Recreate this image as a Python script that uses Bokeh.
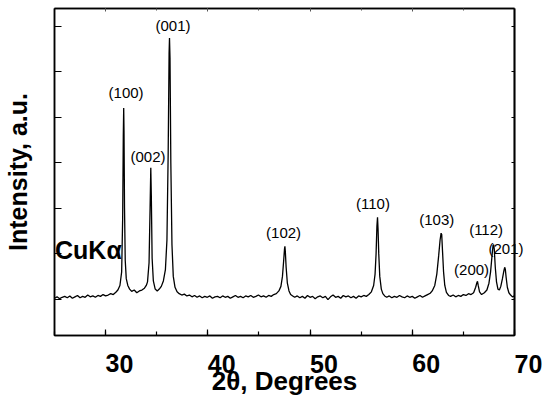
from bokeh.plotting import figure
from bokeh.models import (Range1d, LinearAxis, FixedTicker, SingleIntervalTicker,
                          Label, CustomJSTickFormatter)
from bokeh.embed import file_html
from bokeh.resources import INLINE

# ---- data ----
two_theta = [
    25.00, 25.25, 25.50, 25.75, 26.00, 26.25, 26.50, 26.75, 27.00, 27.25,
    27.50, 27.75, 28.00, 28.25, 28.50, 28.75, 29.00, 29.25, 29.50, 29.75,
    30.00, 30.25, 30.50, 30.75, 31.00, 31.20, 31.40, 31.57, 31.67, 31.73,
    31.77, 31.80, 31.85, 31.92, 32.02, 32.17, 32.35, 32.55, 32.80, 33.05,
    33.30, 33.55, 33.80, 33.98, 34.10, 34.25, 34.35, 34.42, 34.47, 34.55,
    34.67, 34.85, 35.05, 35.25, 35.45, 35.65, 35.85, 36.00, 36.12, 36.21,
    36.25, 36.30, 36.38, 36.49, 36.62, 36.79, 36.99, 37.20, 37.45, 37.70,
    37.95, 38.20, 38.45, 38.70, 38.95, 39.20, 39.45, 39.70, 39.95, 40.20,
    40.45, 40.70, 40.95, 41.20, 41.45, 41.70, 41.95, 42.20, 42.45, 42.70,
    42.95, 43.20, 43.45, 43.70, 43.95, 44.20, 44.45, 44.70, 44.95, 45.20,
    45.45, 45.70, 45.95, 46.20, 46.45, 46.70, 46.95, 47.15, 47.30, 47.42,
    47.50, 47.54, 47.58, 47.66, 47.78, 47.94, 48.10, 48.30, 48.50, 48.75,
    49.00, 49.25, 49.50, 49.75, 50.00, 50.25, 50.50, 50.75, 51.00, 51.25,
    51.50, 51.75, 52.00, 52.25, 52.50, 52.75, 53.00, 53.25, 53.50, 53.75,
    54.00, 54.25, 54.50, 54.75, 55.00, 55.25, 55.50, 55.75, 56.00, 56.22,
    56.36, 56.46, 56.54, 56.60, 56.65, 56.72, 56.82, 56.97, 57.12, 57.30,
    57.50, 57.75, 58.00, 58.25, 58.50, 58.75, 59.00, 59.25, 59.50, 59.75,
    60.00, 60.25, 60.50, 60.75, 61.00, 61.25, 61.50, 61.75, 61.95, 62.20,
    62.40, 62.58, 62.72, 62.82, 62.88, 62.96, 63.06, 63.18, 63.34, 63.55,
    63.75, 64.00, 64.25, 64.50, 64.75, 65.00, 65.25, 65.50, 65.75, 66.00,
    66.20, 66.32, 66.38, 66.45, 66.58, 66.78, 67.05, 67.30, 67.50, 67.66,
    67.80, 67.90, 67.96, 68.02, 68.12, 68.24, 68.38, 68.52, 68.66, 68.82,
    68.96, 69.04, 69.10, 69.18, 69.30, 69.45, 69.62, 69.80, 70.00,
]
intensity = [
    0.02, 0.05, 0.01, 0.04, 0.06, 0.03, 0.07, 0.02, 0.05, 0.08,
    0.03, 0.06, 0.04, 0.09, 0.05, 0.07, 0.04, 0.08, 0.06, 0.10,
    0.07, 0.09, 0.12, 0.10, 0.15, 0.20, 0.30, 0.60, 1.80, 3.60,
    4.20, 3.70, 2.00, 0.85, 0.45, 0.30, 0.22, 0.17, 0.20, 0.14,
    0.18, 0.20, 0.24, 0.30, 0.38, 0.80, 2.00, 2.89, 2.30, 0.90,
    0.40, 0.22, 0.18, 0.22, 0.28, 0.40, 0.65, 1.30, 3.20, 5.40,
    5.74, 5.30, 3.00, 1.20, 0.50, 0.26, 0.16, 0.12, 0.09, 0.11,
    0.07, 0.09, 0.05, 0.08, 0.04, 0.07, 0.03, 0.06, 0.04, 0.07,
    0.02, 0.05, 0.06, 0.03, 0.07, 0.04, 0.06, 0.02, 0.05, 0.08,
    0.04, 0.06, 0.03, 0.07, 0.05, 0.08, 0.04, 0.06, 0.09, 0.05,
    0.07, 0.04, 0.08, 0.06, 0.10, 0.12, 0.18, 0.28, 0.50, 0.85,
    1.10, 1.16, 1.05, 0.70, 0.35, 0.18, 0.10, 0.07, 0.04, 0.07,
    0.03, 0.06, 0.02, 0.08, 0.04, 0.06, 0.01, 0.05, 0.07, 0.03,
    0.06, -0.01, 0.05, 0.09, 0.04, 0.06, 0.02, 0.08, 0.05, 0.07,
    0.03, 0.06, 0.02, 0.07, 0.05, 0.08, 0.06, 0.10, 0.16, 0.30,
    0.55, 1.00, 1.60, 1.80, 1.55, 1.00, 0.50, 0.22, 0.12, 0.07,
    0.04, 0.07, 0.03, 0.06, 0.04, 0.08, 0.05, 0.03, 0.07, 0.04,
    0.06, 0.02, 0.05, 0.08, 0.04, 0.07, 0.10, 0.13, 0.18, 0.30,
    0.55, 0.95, 1.30, 1.45, 1.42, 1.05, 0.60, 0.30, 0.15, 0.08,
    0.06, 0.09, 0.05, 0.08, 0.06, 0.10, 0.08, 0.12, 0.10, 0.14,
    0.26, 0.36, 0.39, 0.30, 0.16, 0.10, 0.14, 0.20, 0.35, 0.60,
    0.95, 1.18, 1.20, 1.10, 0.70, 0.38, 0.22, 0.20, 0.28, 0.45,
    0.62, 0.70, 0.66, 0.48, 0.26, 0.14, 0.09, 0.05, 0.07,
]
assert len(two_theta) == len(intensity)

# labels of the peaks that sit inside the frame
peak_labels = ["(100)", "(002)", "(001)", "(102)", "(110)", "(103)", "(200)", "(112)"]
label_x = [32.00, 34.15, 36.59, 47.41, 56.15, 62.39, 65.80, 67.22]
label_y = [4.55, 3.13, 6.01, 1.46, 2.10, 1.75, 0.65, 1.53]
# label that crosses the right frame edge
edge_label = "(201)"
edge_label_y = 1.11

y_ticks = [0, 1, 2, 3, 4, 5, 6]

FONT = "Liberation Sans"
EMPTY = CustomJSTickFormatter(code="return ''")

p = figure(width=547, height=398, output_backend="svg", toolbar_location=None,
           x_range=Range1d(25, 70), y_range=Range1d(-0.80, 6.39),
           x_axis_label="2θ, Degrees", y_axis_label="Intensity, a.u.",
           min_border_left=53, min_border_right=33, min_border_top=8,
           min_border_bottom=61)
p.grid.visible = False
p.outline_line_color = "black"
p.outline_line_width = 1.5
p.background_fill_color = "white"
p.border_fill_color = "white"

p.line(two_theta, intensity, line_color="black", line_width=1.3)

# bottom axis
xa = p.xaxis[0]
xa.ticker = SingleIntervalTicker(interval=10, num_minor_ticks=2)
xa.major_tick_in = 6
xa.major_tick_out = 0
xa.minor_tick_in = 4
xa.minor_tick_out = 0
xa.axis_line_color = "black"
xa.axis_line_width = 1.5
xa.major_tick_line_width = 1.2
xa.minor_tick_line_width = 1.2
xa.major_label_text_font = FONT
xa.major_label_text_font_style = "bold"
xa.major_label_text_font_size = "25px"
xa.major_label_text_color = "black"
xa.major_label_orientation = -1e-6
xa.major_label_standoff = 28
xa.axis_label_text_font = FONT
xa.axis_label_text_font_style = "bold"
xa.axis_label_text_font_size = "26px"
xa.axis_label_text_color = "black"
xa.axis_label_standoff = -19

# left axis
ya = p.yaxis[0]
ya.ticker = FixedTicker(ticks=y_ticks)
ya.formatter = EMPTY
ya.major_tick_in = 7
ya.major_tick_out = 0
ya.minor_tick_in = 0
ya.minor_tick_out = 0
ya.axis_line_color = "black"
ya.axis_line_width = 1.5
ya.major_tick_line_width = 1.2
ya.major_label_standoff = 0
ya.axis_label_text_font = FONT
ya.axis_label_text_font_style = "bold"
ya.axis_label_text_font_size = "25px"
ya.axis_label_text_color = "black"
ya.axis_label_standoff = 23

# top axis (ticks only)
ta = LinearAxis(ticker=SingleIntervalTicker(interval=10, num_minor_ticks=2),
                formatter=EMPTY, major_label_text_font_size="1px",
                major_tick_in=3, major_tick_out=0, minor_tick_in=2, minor_tick_out=0,
                major_tick_line_color="#555555", minor_tick_line_color="#555555",
                major_label_standoff=0, axis_line_color="black", axis_line_width=1.5)
p.add_layout(ta, "above")

# right axis (ticks only)
ra = LinearAxis(ticker=FixedTicker(ticks=y_ticks), formatter=EMPTY,
                major_tick_in=3, major_tick_out=0, minor_tick_in=0, minor_tick_out=0,
                major_tick_line_width=1.2, major_tick_line_color="black",
                major_label_standoff=0, axis_line_color="black", axis_line_width=1.8)
p.add_layout(ra, "right")

# right-side label that overhangs the frame, drawn by an axis so it is not clipped
ra2 = LinearAxis(ticker=FixedTicker(ticks=[edge_label_y]),
                 major_label_overrides={edge_label_y: edge_label},
                 major_tick_in=0, major_tick_out=0, minor_tick_in=0, minor_tick_out=0,
                 major_tick_line_color=None, minor_tick_line_color=None,
                 axis_line_color=None, major_label_standoff=-26,
                 major_label_text_font=FONT, major_label_text_font_size="15px",
                 major_label_text_color="black")
p.add_layout(ra2, "right")

# peak labels
for t, lx, ly in zip(peak_labels, label_x, label_y):
    p.add_layout(Label(x=lx, y=ly, text=t, text_align="center", text_baseline="middle",
                       text_font=FONT, text_font_size="15px", text_color="black"))

p.add_layout(Label(x=25.05, y=1.07, text="CuKα", text_align="left", text_baseline="middle",
                   text_font=FONT, text_font_style="bold", text_font_size="25px",
                   text_color="black"))

open("out.html", "w").write(file_html(p, INLINE))
